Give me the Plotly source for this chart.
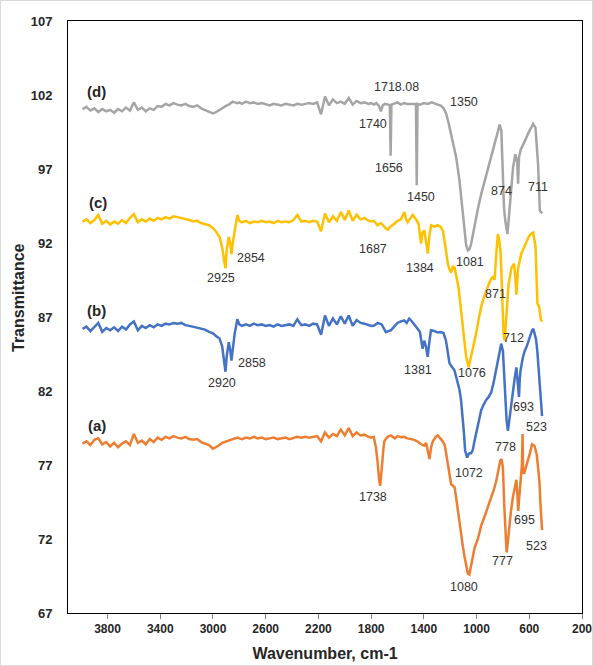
import plotly.graph_objects as go

# ---------------- data ----------------
# shared wavenumber grid for the high-wavenumber region (cm-1)
wn_grid = [3990, 3960, 3930, 3900, 3870, 3840, 3810, 3780, 3750, 3720,
           3690, 3660, 3630, 3600, 3570, 3540, 3510, 3480, 3450, 3420,
           3390, 3360, 3330, 3300, 3270, 3240, 3210, 3180, 3150, 3120,
           3090, 3060, 3030, 3000, 2975, 2950, 2930, 2915, 2905, 2895,
           2880, 2868, 2860, 2850, 2835, 2815, 2800, 2780, 2750, 2720,
           2690, 2660, 2630, 2600, 2570, 2540, 2510, 2480, 2450, 2420,
           2390, 2360, 2330, 2300, 2270, 2240, 2210, 2180, 2150, 2120,
           2090, 2060, 2030, 2000, 1970, 1940, 1910, 1880, 1850, 1820, 1800]

t_d_grid = [101.05, 101.2, 100.95, 101.1, 100.85, 101.05, 100.9, 101.0, 100.8, 101.05,
            100.9, 101.15, 100.95, 101.5, 101.0, 101.15, 100.9, 101.1, 101.0, 101.25,
            101.2, 101.4, 101.3, 101.45, 101.35, 101.3, 101.4, 101.25, 101.2, 101.3,
            101.1, 101.0, 100.9, 100.75, 100.85, 101.0, 101.1, 101.2, 101.25, 101.3,
            101.35, 101.45, 101.5, 101.55, 101.5, 101.45, 101.5, 101.4, 101.55, 101.45,
            101.5, 101.4, 101.45, 101.35, 101.3, 101.4, 101.35, 101.3, 101.4, 101.35,
            101.3, 101.4, 101.35, 101.4, 101.45, 101.4, 101.5, 100.7, 101.9, 101.3,
            101.7, 101.45, 101.55, 101.4, 101.8, 101.35, 101.6, 101.45, 101.5, 101.4, 101.45]

t_c_grid = [93.45, 93.6, 93.35, 93.55, 93.9, 93.3, 93.5, 93.25, 93.45, 93.3,
            93.55, 93.35, 93.7, 93.95, 93.4, 93.6, 93.45, 93.65, 93.5, 93.7,
            93.6, 93.75, 93.65, 93.8, 93.75, 93.7, 93.6, 93.55, 93.45, 93.5,
            93.35, 93.3, 93.2, 93.0, 92.75, 92.4, 91.7, 90.8, 90.3, 91.6,
            92.4, 91.9, 91.25, 92.0, 92.9, 93.9, 93.5, 93.4, 93.5, 93.35,
            93.45, 93.4, 93.5, 93.4, 93.45, 93.35, 93.5, 93.4, 93.45, 93.4,
            93.55, 93.9, 93.45, 93.5, 93.4, 93.5, 93.45, 92.8, 94.0, 93.4,
            93.8, 93.5, 94.1, 93.55, 94.2, 93.5, 93.9, 93.6, 93.7, 93.5, 93.45]

t_b_grid = [86.2, 86.35, 86.05, 86.3, 86.6, 86.0, 86.25, 86.1, 86.3, 86.05,
            86.35, 86.15, 86.5, 86.7, 86.1, 86.4, 86.25, 86.45, 86.3, 86.5,
            86.4, 86.55, 86.5, 86.6, 86.55, 86.6, 86.45, 86.4, 86.35, 86.3,
            86.2, 86.15, 86.0, 85.9, 85.7, 85.55, 85.0, 84.0, 83.3, 84.4,
            85.3, 84.7, 84.05, 84.8, 85.9, 86.85, 86.5, 86.4, 86.5, 86.4,
            86.55, 86.45, 86.5, 86.4, 86.45, 86.35, 86.5, 86.4, 86.45, 86.5,
            86.4, 86.85, 86.45, 86.5, 86.4, 86.55, 86.5, 85.8, 87.1, 86.4,
            86.9, 86.5, 87.05, 86.55, 87.1, 86.4, 86.8, 86.6, 86.55, 86.45, 86.4]

t_a_grid = [78.45, 78.6, 78.35, 78.7, 78.8, 78.4, 78.55, 78.25, 78.5, 78.2,
            78.45, 78.6, 78.35, 79.1, 78.5, 78.65, 78.4, 78.75, 78.55, 78.85,
            78.7, 78.9, 78.8, 78.95, 78.85, 78.8, 78.9, 78.75, 78.7, 78.75,
            78.55, 78.45, 78.35, 78.1, 78.2, 78.35, 78.5, 78.55, 78.6, 78.6,
            78.65, 78.7, 78.75, 78.75, 78.8, 78.85, 78.8, 78.75, 78.85, 78.8,
            78.9, 78.8, 78.85, 78.75, 78.8, 78.85, 78.75, 78.8, 78.85, 78.75,
            78.8, 78.9, 78.85, 78.9, 78.85, 78.9, 78.95, 78.6, 79.2, 78.85,
            79.1, 78.95, 79.4, 79.0, 79.5, 78.95, 79.2, 79.0, 79.05, 78.9, 78.85]

# fingerprint region, per sample
wn_d_fp = [1780, 1760, 1740, 1726, 1712, 1695, 1670, 1658, 1652, 1646,
           1630, 1600, 1575, 1550, 1525, 1500, 1475, 1460, 1454, 1448,
           1430, 1400, 1370, 1340, 1310, 1285, 1269, 1250, 1231, 1212,
           1193, 1175, 1155, 1130, 1104, 1090, 1079, 1066, 1053, 1041,
           1028, 1015, 990, 965, 940, 914, 889, 863, 845, 825,
           812, 800, 792, 782, 766, 757, 748, 735, 723, 706,
           692, 685, 678, 665, 647, 628, 609, 590, 571, 553,
           543, 533, 520, 510, 502]
t_d_fp = [101.35, 101.45, 101.25, 100.9, 101.3, 101.4, 101.35, 101.3, 97.9, 101.35,
          101.4, 101.5, 101.35, 101.45, 101.4, 101.4, 101.35, 101.4, 95.9, 101.4,
          101.35, 101.45, 101.4, 101.5, 101.4, 101.3, 101.26, 101.1, 100.75, 100.1,
          99.4, 98.6, 97.8, 96.25, 94.0, 92.9, 91.85, 91.5, 91.6, 91.95,
          92.6, 93.3, 94.3, 95.3, 96.1, 96.9, 97.8, 98.7, 99.3, 100.0,
          99.6, 97.0, 94.4, 93.5, 92.6, 93.5, 94.4, 95.8, 97.1, 98.0,
          97.5, 96.0, 97.8, 98.3, 98.7, 99.0, 99.4, 99.7, 100.05, 99.8,
          98.8, 97.3, 94.2, 94.1, 94.0]

wn_c_fp = [1780, 1751, 1725, 1700, 1685, 1672, 1655, 1624, 1600, 1573,
           1548, 1535, 1523, 1500, 1484, 1460, 1440, 1421, 1410, 1396,
           1383, 1370, 1358, 1345, 1320, 1294, 1275, 1256, 1237, 1218,
           1205, 1193, 1180, 1167, 1150, 1137, 1117, 1096, 1079, 1060,
           1041, 1022, 1003, 985, 965, 945, 927, 908, 889, 875,
           863, 858, 848, 838, 828, 817, 805, 796, 787, 774,
           757, 736, 716, 705, 698, 685, 672, 660, 640, 622,
           605, 589, 571, 553, 545, 538, 525, 512, 502]
t_c_fp = [93.5, 93.2, 93.35, 93.1, 92.95, 92.9, 93.1, 93.3, 93.5, 93.6,
          94.1, 93.6, 93.4, 93.7, 93.9, 93.6, 93.3, 91.96, 92.7, 92.85,
          92.2, 91.28, 92.5, 93.2, 93.1, 93.2, 93.1, 92.85, 91.8, 90.6,
          90.2, 90.0, 90.4, 90.35, 89.6, 89.0, 87.4, 85.4, 84.3, 83.6,
          84.3, 85.1, 85.9, 86.8, 87.7, 88.3, 88.8, 89.2, 89.6, 89.7,
          89.5, 90.6, 91.6, 92.6, 92.2, 91.3, 87.4, 86.0, 85.4, 87.4,
          89.2, 90.3, 90.6, 89.6, 88.5, 90.3, 90.8, 91.3, 91.7, 92.1,
          92.4, 92.6, 92.7, 91.8, 89.5, 87.9, 87.7, 86.8, 86.7]

wn_b_fp = [1777, 1750, 1720, 1700, 1688, 1670, 1650, 1620, 1600, 1575,
           1549, 1530, 1511, 1490, 1460, 1430, 1410, 1397, 1384, 1371,
           1358, 1346, 1320, 1295, 1270, 1250, 1232, 1218, 1206, 1193,
           1181, 1168, 1156, 1143, 1130, 1118, 1105, 1096, 1087, 1079,
           1072, 1062, 1054, 1041, 1029, 1016, 1003, 985, 965, 945,
           927, 908, 889, 870, 851, 832, 813, 800, 791, 783,
           772, 762, 749, 736, 724, 710, 698, 688, 678, 672,
           666, 650, 635, 620, 605, 592, 579, 569, 559, 549,
           539, 530, 521, 512, 503]
t_b_fp = [86.43, 86.6, 86.5, 86.2, 85.98, 86.05, 86.1, 86.4, 86.6, 86.7,
          86.77, 86.6, 86.9, 86.7, 86.32, 86.0, 84.86, 85.4, 85.0, 84.3,
          85.3, 86.1, 86.05, 85.95, 85.98, 85.9, 85.4, 84.6, 83.9, 83.7,
          83.55, 83.4, 83.0, 82.6, 82.1, 81.4, 80.3, 79.2, 78.0, 77.6,
          77.5, 77.7, 77.8, 77.8, 78.0, 78.6, 79.2, 79.9, 80.7, 81.1,
          81.4, 81.6, 81.9, 82.6, 83.4, 84.3, 85.2, 84.7, 83.0, 81.4,
          80.0, 79.3, 80.3, 81.2, 82.1, 82.9, 83.6, 82.5, 81.6, 82.8,
          83.4, 84.2, 84.7, 85.0, 85.4, 85.8, 86.1, 86.2, 85.9, 85.5,
          84.7, 83.6, 82.5, 81.3, 80.3]

wn_a_fp = [1780, 1764, 1752, 1746, 1738, 1731, 1722, 1716, 1708, 1700,
           1675, 1650, 1620, 1600, 1573, 1550, 1525, 1497, 1472, 1450,
           1421, 1397, 1383, 1371, 1357, 1345, 1332, 1310, 1294, 1275,
           1256, 1240, 1230, 1218, 1205, 1193, 1180, 1167, 1155, 1142,
           1130, 1117, 1104, 1091, 1078, 1066, 1055, 1041, 1028, 1015,
           990, 965, 940, 915, 889, 870, 851, 835, 820, 810,
           800, 790, 780, 772, 765, 755, 740, 725, 710, 698,
           690, 684, 678, 670, 662, 656, 651, 647, 640, 626,
           612, 595, 579, 561, 543, 533, 523, 516, 510, 503]
t_a_fp = [78.9, 78.2, 77.3, 76.6, 75.9, 75.6, 76.3, 77.1, 78.0, 78.6,
          78.9, 79.0, 78.8, 78.95, 78.87, 78.9, 78.8, 78.76, 78.7, 78.6,
          78.4, 78.3, 78.5, 78.0, 77.4, 78.2, 78.6, 78.9, 79.0, 78.8,
          78.6, 78.3, 77.8, 77.1, 76.4, 75.7, 75.6, 75.5, 74.8, 73.9,
          73.1, 72.3, 71.5, 70.8, 70.2, 69.65, 69.6, 70.2, 70.8, 71.4,
          72.0, 72.9, 73.5, 74.1, 74.7, 75.3, 75.9, 76.6, 77.3, 77.4,
          76.8, 74.3, 72.0, 71.1, 71.6, 72.6, 73.8, 74.8, 75.5, 76.0,
          75.0, 73.9, 74.6, 75.4, 76.3, 77.0, 79.1, 76.6, 76.4, 76.8,
          77.2, 77.8, 78.4, 78.3, 77.7, 76.9, 75.9, 74.5, 73.5, 72.6]

series_names = ["(d)", "(c)", "(b)", "(a)"]
series_colors = ["#A5A5A5", "#FFC000", "#4472C4", "#ED7D31"]

x_ticks = [3800, 3400, 3000, 2600, 2200, 1800, 1400, 1000, 600, 200]
y_ticks = [67, 72, 77, 82, 87, 92, 97, 102, 107]

# series label positions (wavenumber, transmittance)
series_label_pos = [(3880, 102.27), (3872, 94.77), (3880, 87.47), (3880, 79.7)]

# peak labels: (text, wavenumber position, transmittance position)
peak_labels = [
    ("1718.08", 1611, 102.54), ("1350", 1095, 101.53), ("1740", 1786, 100.04),
    ("1656", 1664, 97.07), ("1450", 1421, 95.11), ("874", 814, 95.51),
    ("711", 534, 95.78),
    ("1687", 1786, 91.59), ("1384", 1429, 90.31), ("1081", 1050, 90.72),
    ("871", 860, 88.55), ("712", 716, 85.58), ("1076", 1034, 83.22),
    ("2925", 2939, 89.64), ("2854", 2711, 90.99),
    ("1381", 1444, 83.42), ("2920", 2931, 82.54), ("2858", 2704, 83.89),
    ("693", 647, 80.92), ("523", 549, 79.57), ("778", 784, 78.22),
    ("1072", 1057, 76.46),
    ("1738", 1786, 74.84), ("695", 640, 73.28), ("523", 549, 71.53),
    ("777", 807, 70.51), ("1080", 1095, 68.76),
]

# ---------------- figure ----------------
wn_all = [wn_grid + wn_d_fp, wn_grid + wn_c_fp, wn_grid + wn_b_fp, wn_grid + wn_a_fp]
t_all = [t_d_grid + t_d_fp, t_c_grid + t_c_fp, t_b_grid + t_b_fp, t_a_grid + t_a_fp]

fig = go.Figure()
for name, col, xs, ys in zip(series_names, series_colors, wn_all, t_all):
    fig.add_trace(go.Scatter(x=xs, y=ys, mode="lines", name=name,
                             line=dict(color=col, width=2.5), showlegend=False))

annotations = []
for name, (px, py) in zip(series_names, series_label_pos):
    annotations.append(dict(x=px, y=py, xref="x", yref="y", text="<b>" + name + "</b>", showarrow=False,
                            font=dict(family="Liberation Sans, Arial", size=15, color="#262626"),
                            xanchor="center", yanchor="middle"))
for txt, px, py in peak_labels:
    annotations.append(dict(x=px, y=py, xref="x", yref="y", text=txt, showarrow=False,
                            font=dict(family="Liberation Sans, Arial", size=12.5, color="#333333"),
                            xanchor="center", yanchor="middle"))

W, H = 593, 666
ml, mr, mt, mb = 68, 11, 21, 53
pw, ph = W - ml - mr, H - mt - mb

annotations.append(dict(x=(18 - ml) / pw, y=(H - mb - 298) / ph, xref="paper", yref="paper",
                        text="<b>Transmittance</b>", textangle=-90, showarrow=False,
                        font=dict(family="Liberation Sans, Arial", size=16, color="#262626"),
                        xanchor="center", yanchor="middle"))

fig.update_layout(
    width=W, height=H,
    margin=dict(l=ml, r=mr, t=mt, b=mb, pad=0),
    paper_bgcolor="white", plot_bgcolor="white",
    annotations=annotations,
    shapes=[dict(type="rect", xref="paper", yref="paper",
                 x0=-(ml - 0.5) / pw, x1=(W - ml - 0.5) / pw,
                 y0=-(mb - 0.5) / ph, y1=(H - mb - 0.5) / ph,
                 line=dict(color="#D9D9D9", width=1), layer="above")],
    xaxis=dict(range=[4100, 200], tickvals=x_ticks, ticktext=[str(v) for v in x_ticks],
               automargin=False,
               showgrid=False, zeroline=False, showline=True, linecolor="#000000",
               linewidth=1, mirror=True, ticks="outside", ticklen=5, tickcolor="#7F7F7F",
               tickfont=dict(family="Liberation Sans, Arial", size=12, color="#262626", weight="bold"),
               title=dict(text="<b>Wavenumber, cm-1</b>", standoff=12,
                          font=dict(family="Liberation Sans, Arial", size=16, color="#262626"))),
    yaxis=dict(range=[67, 107], tickvals=y_ticks, ticktext=[str(v) for v in y_ticks],
               automargin=False,
               showgrid=False, zeroline=False, showline=True, linecolor="#000000",
               linewidth=1, mirror=True, ticks="", ticklabelstandoff=12,
               tickfont=dict(family="Liberation Sans, Arial", size=13, color="#262626", weight="bold")),
)

fig.write_html("out.html", config={"displayModeBar": False},
               post_script="document.body.style.margin='0';document.body.style.padding='0';")
